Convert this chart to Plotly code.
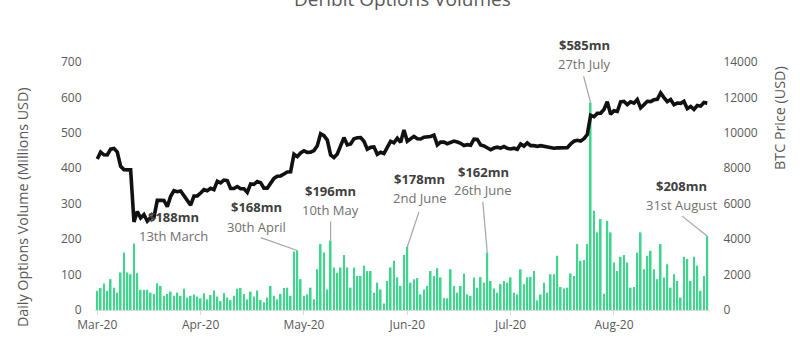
import pandas as pd
import plotly.graph_objects as go

# ---------------- data ----------------
vol_mar = [54, 62, 75, 54, 87, 63, 49, 106, 162, 106, 101, 188, 104, 57, 57, 57,
           49, 45, 75, 68, 40, 45, 52, 40, 49, 40, 60, 35, 40, 44, 38]
vol_apr = [33, 47, 30, 42, 55, 38, 25, 48, 35, 28, 40, 60, 62, 45, 30, 52, 38,
           55, 28, 22, 35, 68, 40, 30, 45, 62, 63, 40, 165, 168]
vol_may = [87, 40, 44, 63, 30, 115, 186, 162, 58, 196, 120, 105, 120, 155, 120,
           63, 120, 96, 96, 125, 110, 110, 49, 77, 58, 18, 82, 120, 139, 92, 68]
vol_jun = [155, 178, 77, 87, 90, 44, 58, 68, 110, 96, 118, 92, 33, 33, 115, 68,
           49, 68, 103, 44, 40, 92, 63, 93, 77, 162, 82, 61, 49, 73]
vol_jul = [82, 77, 92, 49, 44, 115, 73, 92, 93, 110, 27, 44, 77, 49, 101, 101,
           153, 65, 61, 63, 103, 96, 186, 139, 141, 186, 585, 280, 219, 257, 46]
vol_aug = [252, 219, 134, 110, 150, 155, 134, 63, 65, 162, 219, 115, 153, 167,
           115, 87, 186, 92, 129, 63, 101, 82, 35, 150, 144, 82, 150, 125, 54, 96, 208]

btc_mar = [8523, 8910, 8760, 8750, 9078, 9122, 8909, 8108, 7923, 7909, 7911, 4970,
           5563, 5200, 5392, 5014, 5225, 5238, 6191, 6198, 6185, 5830, 6416, 6734,
           6681, 6716, 6469, 6242, 5922, 6429, 6438]
btc_apr = [6606, 6793, 6733, 6867, 6791, 7271, 7176, 7334, 7302, 6865, 6859, 6971,
           6845, 6842, 6642, 7117, 7096, 7257, 7189, 6881, 6880, 7117, 7429, 7550,
           7569, 7679, 7795, 7807, 8801, 8658]
btc_may = [8864, 8988, 8897, 8912, 9003, 9268, 9951, 9842, 9593, 8756, 8601, 8804,
           9269, 9733, 9328, 9377, 9670, 9726, 9729, 9523, 9081, 9182, 9209, 8790,
           8906, 8835, 9181, 9525, 9439, 9700, 9461]
btc_jun = [10167, 9529, 9656, 9800, 9665, 9653, 9758, 9771, 9795, 9870, 9321, 9480,
           9475, 9386, 9450, 9538, 9480, 9411, 9288, 9332, 9303, 9648, 9629, 9313,
           9264, 9162, 9045, 9143, 9190, 9137]
btc_jul = [9228, 9123, 9087, 9132, 9073, 9375, 9252, 9428, 9277, 9278, 9240, 9276,
           9243, 9243, 9193, 9132, 9151, 9159, 9185, 9164, 9374, 9526, 9581, 9536,
           9677, 9905, 10990, 10912, 11100, 11111, 11323]
btc_aug = [11759, 11053, 11246, 11205, 11747, 11779, 11601, 11754, 11675, 11878,
           11410, 11584, 11784, 11768, 11865, 11893, 12254, 11991, 11758, 11878,
           11592, 11681, 11664, 11774, 11366, 11488, 11323, 11542, 11507, 11711, 11680]

tick_labels = ["Mar-20", "Apr-20", "May-20", "Jun-20", "Jul-20", "Aug-20"]

callout_dates = ["2020-03-12", "2020-04-30", "2020-05-10", "2020-06-02",
                 "2020-06-26", "2020-07-27", "2020-08-31"]
callout_days = ["13th March", "30th April", "10th May", "2nd June",
                "26th June", "27th July", "31st August"]

# ---------------- assembly ----------------
volume = vol_mar + vol_apr + vol_may + vol_jun + vol_jul + vol_aug
btc_price = btc_mar + btc_apr + btc_may + btc_jun + btc_jul + btc_aug
dates = pd.date_range("2020-03-01", periods=len(volume), freq="D")
tick_dates = list(dates[::31][:len(tick_labels)])

# label placement (pixel offsets from the bar top: bold line, sub line, leader tail)
label_offsets = [(40, -26, -7.6, None), (-41, -43, -23.7, (-37, -13)),
                 (0, -50, -30.5, (0, -20)), (12.5, -68, -49, (12, -36)),
                 (-4, -81, -62.5, (-4.6, -52)), (-6.6, -57.5, -39.2, (-7.3, -27.5)),
                 (-25.6, -50.6, -31.6, (-25.6, -20.6))]

FONT = "Open Sans"
GREY = "#595959"

fig = go.Figure()
fig.add_trace(go.Bar(x=dates, y=volume, name="Options Volume",
                     marker=dict(color="#3dd68c", line=dict(width=0)), yaxis="y"))
fig.add_trace(go.Scatter(x=dates, y=btc_price, name="BTC Price", mode="lines",
                         line=dict(color="#111111", width=3.6), yaxis="y2"))

annotations = []
for d, day_txt, (dx, dyb, dyr, tail) in zip(callout_dates, callout_days, label_offsets):
    ts = pd.Timestamp(d)
    v = volume[dates.get_loc(ts)]
    annotations.append(dict(x=ts, y=v, xref="x", yref="y", showarrow=False,
                            text=f"<b>${v}mn</b>", xshift=dx, yshift=-dyb,
                            font=dict(family=FONT, size=13, color="#404040")))
    annotations.append(dict(x=ts, y=v, xref="x", yref="y", showarrow=False,
                            text=day_txt, xshift=dx, yshift=-dyr,
                            font=dict(family=FONT, size=13, color="#6f6f6f")))
    if tail is not None:
        annotations.append(dict(x=ts, y=v, xref="x", yref="y", text=" ",
                                showarrow=True, arrowhead=0, arrowwidth=1.2,
                                arrowcolor="#a6a6a6", ax=tail[0], ay=tail[1],
                                borderpad=0, standoff=0, startstandoff=0,
                                font=dict(size=1)))

annotations.append(dict(x=0.5, y=1.254, xref="paper", yref="paper",
                        text="Deribit Options Volumes", showarrow=False,
                        xanchor="center", yanchor="middle",
                        font=dict(family=FONT, size=19, color=GREY)))
annotations.append(dict(x=-0.1187, y=0.415, xref="paper", yref="paper",
                        text="Daily Options Volume (Millions USD)", textangle=-90,
                        xanchor="center", yanchor="middle",
                        showarrow=False, font=dict(family=FONT, size=14.3, color=GREY)))
annotations.append(dict(x=1.112, y=0.774, xref="paper", yref="paper",
                        text="BTC Price (USD)", textangle=-90,
                        xanchor="center", yanchor="middle",
                        showarrow=False, font=dict(family=FONT, size=14.3, color=GREY)))

tickfont = dict(family=FONT, size=12, color=GREY)
fig.update_layout(
    width=800, height=356,
    margin=dict(l=95, r=90, t=62, b=46, autoexpand=False),
    paper_bgcolor="white", plot_bgcolor="white",
    bargap=0.45, showlegend=True,
    legend=dict(orientation="h", x=0.5, xanchor="center", y=-0.19, yanchor="top",
                font=dict(family=FONT, size=12, color=GREY)),
    xaxis=dict(type="date",
               range=[dates[0] - pd.Timedelta(hours=16.5), dates[-1] + pd.Timedelta(hours=19.5)],
               tickvals=tick_dates, ticktext=tick_labels, showgrid=False, zeroline=False,
               showline=True, linecolor="#d9d9d9", linewidth=1,
               ticks="outside", ticklen=4, tickcolor="#d9d9d9", tickfont=tickfont),
    yaxis=dict(range=[0, 700], dtick=100, showgrid=False, zeroline=False,
               ticks="outside", ticklen=10, tickcolor="rgba(0,0,0,0)", tickfont=tickfont),
    yaxis2=dict(range=[0, 14000], dtick=2000, tickformat="d", overlaying="y", side="right",
                showgrid=False, zeroline=False, ticks="outside", ticklen=10,
                tickcolor="rgba(0,0,0,0)", tickfont=tickfont),
    annotations=annotations,
)

fig.write_html("out.html", config={"displayModeBar": False},
               post_script="document.body.style.margin='0';document.body.style.overflow='hidden';")
